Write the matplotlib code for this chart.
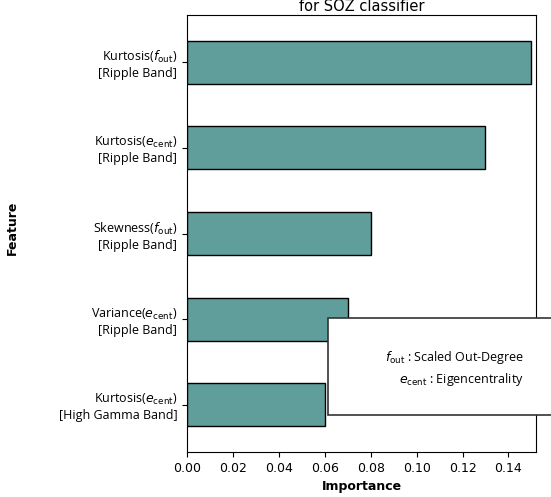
import matplotlib.pyplot as plt
from matplotlib.patches import Rectangle

features = [
    r"Kurtosis($f_{\rm out}$)" + "\n[Ripple Band]",
    r"Kurtosis($e_{\rm cent}$)" + "\n[Ripple Band]",
    r"Skewness($f_{\rm out}$)" + "\n[Ripple Band]",
    r"Variance($e_{\rm cent}$)" + "\n[Ripple Band]",
    r"Kurtosis($e_{\rm cent}$)" + "\n[High Gamma Band]",
]
importance = [0.15, 0.13, 0.08, 0.07, 0.06]
xticks = [0.00, 0.02, 0.04, 0.06, 0.08, 0.10, 0.12, 0.14]

W, H = 551, 497
fig = plt.figure(figsize=(W / 100, H / 100), dpi=100)
ax = fig.add_axes([187 / W, 1 - 452 / H, (536 - 187) / W, (452 - 15) / H])

ypos = list(range(len(features)))
ax.barh(ypos, importance, height=0.5, color="#5f9e9a", edgecolor="black", linewidth=1)
ax.set_ylim(4.55, -0.55)
ax.set_xlim(0, 0.152)
ax.set_xticks(xticks)
ax.set_xticklabels([f"{t:.2f}" for t in xticks], fontsize=9)
ax.set_yticks(ypos)
ax.set_yticklabels(features, fontsize=9, family="Open Sans")
ax.set_xlabel("Importance", fontsize=9, fontweight="bold", labelpad=4)
fig.text(12 / W, 1 - 228 / H, "Feature", fontsize=9, fontweight="bold",
         rotation=90, ha="center", va="center")

# title (only its second line is visible in the source)
fig.text(362 / W, 1 - 11 / H, "for SOZ classifier",
         fontsize=10.5, ha="center", va="baseline")

# legend-like note box, cut off at right edge
box = Rectangle((328 / W, 1 - 415 / H), 0.5, (415 - 318) / H, transform=fig.transFigure,
                facecolor="white", edgecolor="#333333", linewidth=1.2, zorder=5)
fig.patches.append(box)
fig.text(524 / W, 1 - 358 / H, r"$f_{\rm out}$ : Scaled Out-Degree", fontsize=9,
         family="Open Sans", ha="right", va="center", zorder=6)
fig.text(524 / W, 1 - 380 / H, r"$e_{\rm cent}$ : Eigencentrality", fontsize=9,
         family="Open Sans", ha="right", va="center", zorder=6)

fig.savefig("out.png", dpi=100)
